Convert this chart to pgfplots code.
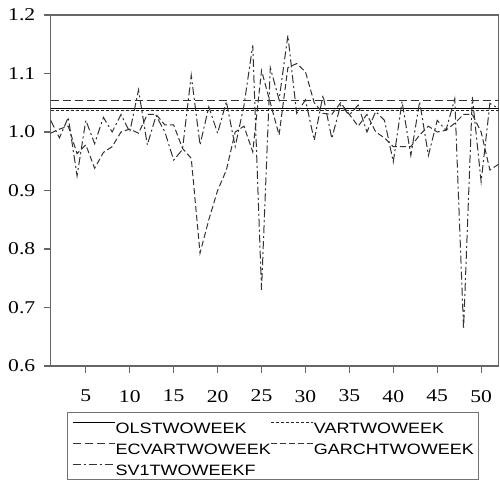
\documentclass[border=0pt]{standalone}
\usepackage{fontspec}
\setmainfont{Liberation Serif}
\newfontfamily\legfont{Liberation Sans}
\usepackage{graphicx}
\usepackage{pgfplots}
\usepackage{pgfplotstable}
\pgfplotsset{compat=1.18}
\pgfplotstableread{
x garch sv
1 0.998 1.020
2 1.005 0.990
3 1.010 1.025
4 0.963 0.925
5 0.978 1.020
6 0.938 0.980
7 0.965 1.025
8 0.975 1.000
9 1.000 1.030
10 1.005 1.000
11 0.998 1.072
12 1.030 0.978
13 1.030 1.028
14 1.012 1.000
15 1.012 0.952
16 0.972 0.970
17 0.955 1.097
18 0.793 0.978
19 0.850 1.043
20 0.900 0.998
21 0.935 1.052
22 1.000 0.975
23 1.010 1.045
24 0.966 1.148
25 1.105 0.730
26 1.050 1.110
27 0.995 1.055
28 1.110 1.165
29 1.117 1.032
30 1.103 1.055
31 1.050 0.986
32 1.032 1.063
33 1.030 0.989
34 1.050 1.046
35 1.030 1.029
36 1.010 1.046
37 1.030 1.000
38 1.000 1.035
39 0.990 1.020
40 0.975 0.949
41 0.975 1.052
42 0.975 0.960
43 0.995 1.052
44 1.010 0.960
45 1.000 1.020
46 1.003 1.003
47 1.015 1.057
48 1.030 0.663
49 1.030 1.060
50 1.000 0.915
51 0.935 1.049
52 0.945 1.040
}\data
\begin{document}
\begin{tikzpicture}
\begin{axis}[
  scale only axis, width=224pt, height=175.5pt,
  xmin=1, xmax=52, ymin=0.6, ymax=1.2,
  xtick={5,10,...,50}, ytick={0.6,0.7,0.8,0.9,1.0,1.1,1.2},
  yticklabel style={/pgf/number format/fixed, /pgf/number format/fixed zerofill, /pgf/number format/precision=1},
  /pgf/number format/assume math mode=true,
  tick label style={font=\fontsize{9}{10}\selectfont, xscale=1.2},
  xticklabel style={yshift=-5pt},
  tick align=outside, major tick length=3.5pt, xtick pos=bottom, ytick pos=left,
  axis line style={draw=black!60, line width=0.6pt},
  every tick/.style={black!60, line width=0.6pt},
  legend columns=2,
  legend cell align=left,
  legend style={at={(0.496,-0.132)}, anchor=north, draw=black!55, line width=0.5pt,
    font=\legfont\fontsize{7.5}{8}\selectfont,
    inner xsep=2.25pt, inner ysep=1pt, /tikz/column sep=0pt,
    nodes={inner sep=0pt, text height=9.35pt, text depth=1.15pt}},
  legend image code/.code={\draw[#1] (0pt,1.4pt) -- (21pt,1.4pt);},
]
\addplot[black, line width=0.8pt] coordinates {(1,1.040) (52,1.040)};
\addlegendentry{\scalebox{1.2}[1]{OLSTWOWEEK}}
\addplot[black!85, line width=0.5pt, dash pattern=on 1.5pt off 1pt] coordinates {(1,1.037) (52,1.037)};
\addlegendentry{\scalebox{1.2}[1]{VARTWOWEEK}}
\addplot[black!80, line width=0.5pt, dash pattern=on 4pt off 2pt] coordinates {(1,1.054) (52,1.054)};
\addlegendentry{\scalebox{1.2}[1]{ECVARTWOWEEK}}
\addplot[black!80, line width=0.5pt, dash pattern=on 3pt off 1.5pt] table[x=x, y=garch] {\data};
\addlegendentry{\scalebox{1.2}[1]{GARCHTWOWEEK}}
\addplot[black!80, line width=0.5pt, dash pattern=on 4pt off 1.5pt on 1pt off 1.5pt] table[x=x, y=sv] {\data};
\addlegendentry{\scalebox{1.2}[1]{SV1TWOWEEKF}}
\end{axis}
\pgfresetboundingbox
\path[use as bounding box] ([shift={(-25.35pt,-58pt)}]current axis.south west) rectangle ([shift={(224.65pt,183pt)}]current axis.south west);
\end{tikzpicture}
\end{document}
